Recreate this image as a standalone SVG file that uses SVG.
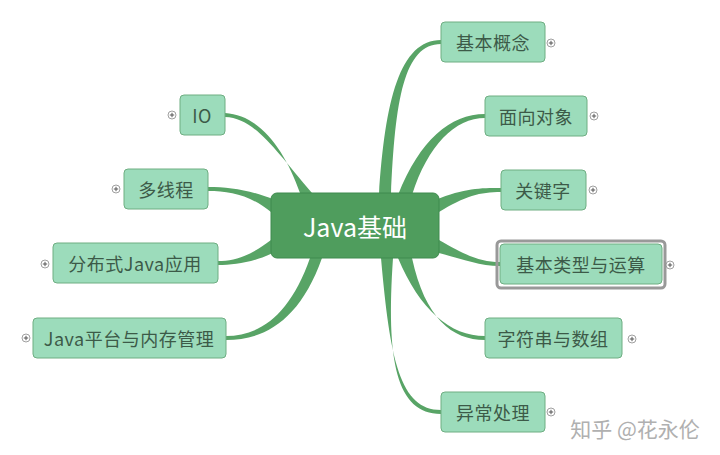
<svg xmlns="http://www.w3.org/2000/svg" width="720" height="455" viewBox="0 0 720 455">
<style>
.b{fill:#58a466}
.n{fill:#9cdcbb;stroke:#6fae82;stroke-width:1}
.t{font-family:"Noto Sans CJK SC","Liberation Sans",sans-serif;font-size:18px;letter-spacing:0.5px;fill:#3c5a48;text-anchor:middle;dominant-baseline:central}
.p{fill:#fff;stroke:#888;stroke-width:0.8}
.pl{stroke:#555;stroke-width:1}
</style>
<defs>
<g id="plus"><circle class="p" r="4"/><path class="pl" d="M-2.2,0H2.2M0,-2.2V2.2"/></g>
</defs>
<rect width="720" height="455" fill="#fff"/>
<g id="connectors">
<path class="b" d="M379,195 C385,100 400,40 441,40 L441,44 C404,44 395,100 391,195 Z"/>
<path class="b" d="M398,195 C420,140 450,114 485,114 L485,118 C455,118 428,145 412,195 Z"/>
<path class="b" d="M435,200 C465,188 480,188 501,188 L501,192 C480,192 465,196 439,212 Z"/>
<path class="b" d="M439,240 C465,255 480,262 500,262 L500,266 C478,266 460,258 435,252 Z"/>
<path class="b" d="M398,258 C420,310 450,336 485,336 L485,340 C452,340 425,318 412,258 Z"/>
<path class="b" d="M381,258 C390,360 400,410 441,410 L441,414 C396,414 386,360 393,258 Z"/>
<path class="b" d="M300,193 C285,150 260,115 225,113 L225,117 C255,118 275,150 312,193 Z"/>
<path class="b" d="M275,200 C250,190 230,187 208,187 L208,191 C230,191 250,195 271,212 Z"/>
<path class="b" d="M271,240 C250,256 235,261 218,261 L218,265 C235,265 255,262 275,252 Z"/>
<path class="b" d="M310,258 C290,315 260,336 226,336 L226,340 C265,340 300,320 322,258 Z"/>
</g>
<g id="center"><rect x="271" y="193" width="168" height="65" rx="6" fill="#4f9d5d" stroke="#3f8a4e"/>
<text x="355" y="226" style="font-family:'Noto Sans CJK SC','Liberation Sans',sans-serif;font-size:25px;fill:#fff;text-anchor:middle;dominant-baseline:central">Java基础</text></g>
<g id="n1"><rect class="n" x="441" y="22" width="104" height="40" rx="4"/><text class="t" x="493" y="42">基本概念</text><use href="#plus" x="551" y="43"/></g>
<g id="n2"><rect class="n" x="485" y="96" width="102" height="40" rx="4"/><text class="t" x="536" y="116">面向对象</text><use href="#plus" x="594" y="116"/></g>
<g id="n3"><rect class="n" x="501" y="170" width="85" height="40" rx="4"/><text class="t" x="543" y="190">关键字</text><use href="#plus" x="593" y="190"/></g>
<g id="n4"><rect x="497" y="241" width="168" height="47" rx="4" fill="none" stroke="#999" stroke-width="3"/><rect class="n" x="500" y="244" width="162" height="40" rx="4"/><text class="t" x="581" y="264">基本类型与运算</text><use href="#plus" x="670" y="265"/></g>
<g id="n5"><rect class="n" x="485" y="318" width="137" height="40" rx="4"/><text class="t" x="553" y="338">字符串与数组</text><use href="#plus" x="632" y="339"/></g>
<g id="n6"><rect class="n" x="441" y="392" width="104" height="40" rx="4"/><text class="t" x="493" y="412">异常处理</text><use href="#plus" x="551" y="412"/></g>
<g id="n7"><rect class="n" x="180" y="95" width="45" height="40" rx="4"/><text class="t" x="202" y="115">IO</text><use href="#plus" x="172" y="115"/></g>
<g id="n8"><rect class="n" x="124" y="169" width="84" height="40" rx="4"/><text class="t" x="166" y="189">多线程</text><use href="#plus" x="116" y="189"/></g>
<g id="n9"><rect class="n" x="53" y="243" width="165" height="40" rx="4"/><text class="t" x="135" y="263">分布式Java应用</text><use href="#plus" x="45" y="264"/></g>
<g id="n10"><rect class="n" x="33" y="318" width="193" height="40" rx="4"/><text class="t" x="129" y="338">Java平台与内存管理</text><use href="#plus" x="26" y="338"/></g>
<text x="635" y="428" style="font-family:'Noto Sans CJK SC','Liberation Sans',sans-serif;font-size:21px;fill:#b0b0b0;text-anchor:middle;dominant-baseline:central">知乎 @花永伦</text>
</svg>
